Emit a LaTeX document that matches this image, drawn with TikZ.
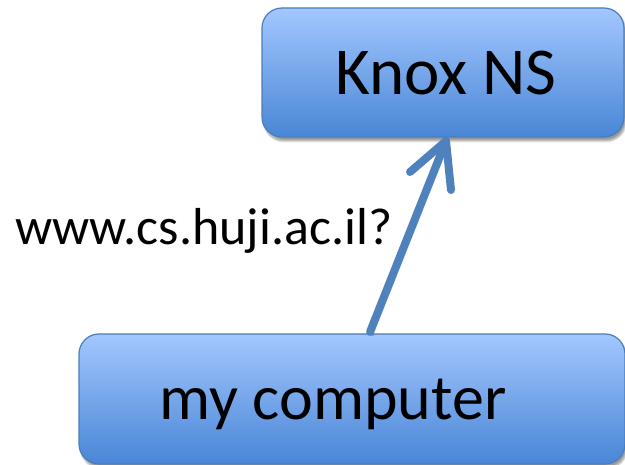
\documentclass[tikz,border=0pt]{standalone}
\usepackage{fontspec}
\setmainfont{Carlito}
\usetikzlibrary{shadows.blur}
\definecolor{boxtop}{HTML}{A3C7FF}
\definecolor{boxbot}{HTML}{4986D6}
\definecolor{boxline}{HTML}{4A7EBB}
\definecolor{arrowc}{HTML}{4F81BD}
\tikzset{
  box/.style={draw=boxline, line width=1.2pt, rounded corners=20pt,
    top color=boxtop, bottom color=boxbot,
    blur shadow={shadow xshift=2pt, shadow yshift=-4pt, shadow blur steps=8, shadow opacity=40},
    inner sep=0pt},
  bigtext/.style={font=\fontsize{64}{64}\selectfont, anchor=base, inner sep=0pt},
  lbl/.style={font=\fontsize{52}{52}\selectfont, anchor=base west, inner sep=0pt},
  arr/.style={draw=arrowc, line width=8pt, line cap=round, line join=round}
}
\begin{document}
\begin{tikzpicture}[x=1pt,y=-1pt]
\useasboundingbox (0,0) rectangle (625,465);
\node[box, minimum width=362pt, minimum height=129pt] (knox) at (443,72.5) {};
\node[box, minimum width=546pt, minimum height=130pt] (mc) at (352,399) {};
\node[bigtext, font=\fontsize{67}{67}\selectfont] (knoxt) at (446,95) {Knox NS};
\node[bigtext] (mct) at (333,420) {my computer};
\node[lbl] (q) at (15,245) {www.cs.huji.ac.il?};
\coordinate (tail) at (370,332);
\coordinate (tip) at (446,141);
\coordinate (armL) at (410,172);
\coordinate (armR) at (451,190);
\draw[arr, blur shadow={shadow xshift=2pt, shadow yshift=-3pt, shadow opacity=30}] (tail) -- (tip);
\draw[arr] (armL) -- (tip) -- (armR);
\end{tikzpicture}
\end{document}
